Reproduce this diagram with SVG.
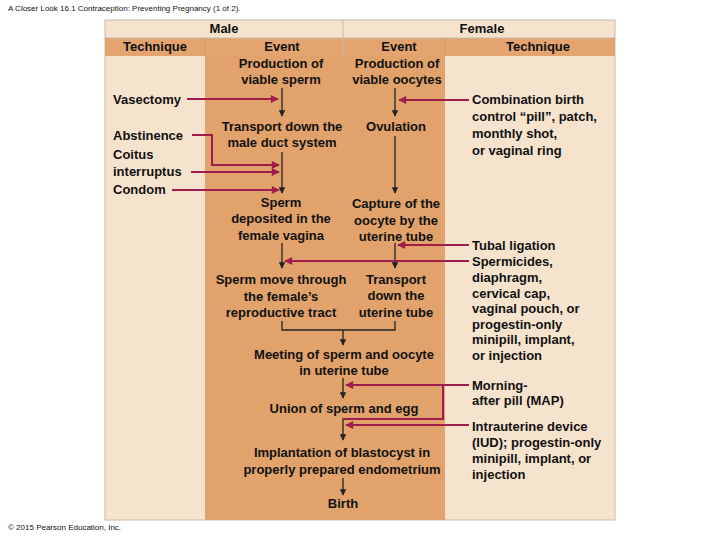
<svg xmlns="http://www.w3.org/2000/svg" width="720" height="540" viewBox="0 0 720 540">
<defs>
<style>
text{font-family:"Liberation Sans",Arial,sans-serif;font-size:13px;font-weight:bold;fill:#111}
.m{text-anchor:middle}
.s{font-size:8px;font-weight:normal}
.k{stroke:#222;stroke-width:1.3;fill:none}
.r{stroke:#9e1d4a;stroke-width:2;fill:none}
</style>
<marker id="ak" viewBox="0 0 10 10" refX="9" refY="5" markerWidth="5" markerHeight="5" orient="auto"><path d="M0,0L10,5L0,10z" fill="#222"/></marker>
<marker id="ar" viewBox="0 0 10 10" refX="9" refY="5" markerWidth="5" markerHeight="4" orient="auto"><path d="M0,0L10,5L0,10z" fill="#9e1d4a"/></marker>
</defs>
<rect width="720" height="540" fill="#fff"/>
<text x="8" y="11" class="s">A Closer Look 16.1 Contraception: Preventing Pregnancy (1 of 2).</text>
<text x="8" y="530" class="s">© 2015 Pearson Education, Inc.</text>
<g id="table">
<rect x="105" y="20" width="510" height="500" fill="#f6e3cd" stroke="#c9b8a5"/>
<rect x="205" y="38" width="240" height="482" fill="#e2a26b"/>
<rect x="105" y="38" width="510" height="18" fill="#e4a470"/>
<line x1="343" y1="20" x2="343" y2="56" stroke="#c9b8a5"/>
<line x1="205" y1="38" x2="205" y2="56" stroke="#d89a68"/>
<line x1="445" y1="38" x2="445" y2="56" stroke="#d89a68"/>
<line x1="105" y1="38" x2="615" y2="38" stroke="#c9b8a5"/>
<text x="224" y="33" class="m">Male</text>
<text x="482" y="33" class="m">Female</text>
<text x="155" y="51" class="m">Technique</text>
<text x="282" y="51" class="m">Event</text>
<text x="399" y="51" class="m">Event</text>
<text x="538" y="51" class="m">Technique</text>
</g>
<g id="n-sperm"><text x="281" y="68" class="m">Production of</text><text x="281" y="84" class="m">viable sperm</text></g>
<g id="n-oocytes"><text x="397" y="68" class="m">Production of</text><text x="397" y="84" class="m">viable oocytes</text></g>
<g id="n-transport"><text x="282" y="131" class="m">Transport down the</text><text x="282" y="147" class="m">male duct system</text></g>
<g id="n-ovulation"><text x="396" y="131" class="m">Ovulation</text></g>
<g id="n-deposited"><text x="281" y="207" class="m">Sperm</text><text x="281" y="223" class="m">deposited in the</text><text x="281" y="240" class="m">female vagina</text></g>
<g id="n-capture"><text x="396" y="208" class="m">Capture of the</text><text x="396" y="225" class="m">oocyte by the</text><text x="396" y="241" class="m">uterine tube</text></g>
<g id="n-move"><text x="281" y="284" class="m">Sperm move through</text><text x="281" y="301" class="m">the female’s</text><text x="281" y="317" class="m">reproductive tract</text></g>
<g id="n-tube"><text x="396" y="284" class="m">Transport</text><text x="396" y="300" class="m">down the</text><text x="396" y="317" class="m">uterine tube</text></g>
<g id="n-meeting"><text x="344" y="359" class="m">Meeting of sperm and oocyte</text><text x="344" y="375" class="m">in uterine tube</text></g>
<g id="n-union"><text x="344" y="413" class="m">Union of sperm and egg</text></g>
<g id="n-implant"><text x="342" y="457" class="m">Implantation of blastocyst in</text><text x="342" y="474" class="m">properly prepared endometrium</text></g>
<g id="n-birth"><text x="343" y="508" class="m">Birth</text></g>
<g id="t-vasectomy"><text x="113" y="104">Vasectomy</text></g>
<g id="t-abstinence"><text x="113" y="140">Abstinence</text></g>
<g id="t-coitus"><text x="113" y="159">Coitus</text><text x="113" y="176">interruptus</text></g>
<g id="t-condom"><text x="113" y="194">Condom</text></g>
<g id="t-pill"><text x="472" y="104">Combination birth</text><text x="472" y="121">control “pill”, patch,</text><text x="472" y="138">monthly shot,</text><text x="472" y="155">or vaginal ring</text></g>
<g id="t-tubal"><text x="472" y="250">Tubal ligation</text></g>
<g id="t-spermicides"><text x="472" y="266">Spermicides,</text><text x="472" y="282">diaphragm,</text><text x="472" y="298">cervical cap,</text><text x="472" y="313">vaginal pouch, or</text><text x="472" y="329">progestin-only</text><text x="472" y="344">minipill, implant,</text><text x="472" y="360">or injection</text></g>
<g id="t-map"><text x="472" y="390">Morning-</text><text x="472" y="405">after pill (MAP)</text></g>
<g id="t-iud"><text x="472" y="431">Intrauterine device</text><text x="472" y="447">(IUD); progestin-only</text><text x="472" y="463">minipill, implant, or</text><text x="472" y="479">injection</text></g>
<g id="connectors">
<path class="k" d="M282,88V116" marker-end="url(#ak)"/>
<path class="k" d="M282,152V193" marker-end="url(#ak)"/>
<path class="k" d="M282,243V268" marker-end="url(#ak)"/>
<path class="k" d="M395,88V116" marker-end="url(#ak)"/>
<path class="k" d="M395,136V193" marker-end="url(#ak)"/>
<path class="k" d="M395,243V268" marker-end="url(#ak)"/>
<path class="k" d="M282,321V330H395V321M343,330V345" marker-end="url(#ak)"/>
<path class="k" d="M343,378V398" marker-end="url(#ak)"/>
<path class="k" d="M343,418V440" marker-end="url(#ak)"/>
<path class="k" d="M343,478V495" marker-end="url(#ak)"/>
<path class="r" d="M187,99H278" marker-end="url(#ar)"/>
<path class="r" d="M192,135H212V165H279" marker-end="url(#ar)"/>
<path class="r" d="M191,172H279" marker-end="url(#ar)"/>
<path class="r" d="M172,190H279" marker-end="url(#ar)"/>
<path class="r" d="M469,100H399" marker-end="url(#ar)"/>
<path class="r" d="M469,245H398" marker-end="url(#ar)"/>
<path class="r" d="M469,261H285" marker-end="url(#ar)"/>
<path class="r" d="M469,385H346" marker-end="url(#ar)"/>
<path class="r" d="M443,385V419H344"/>
<path class="r" d="M469,425H346" marker-end="url(#ar)"/>
</g>
</svg>
